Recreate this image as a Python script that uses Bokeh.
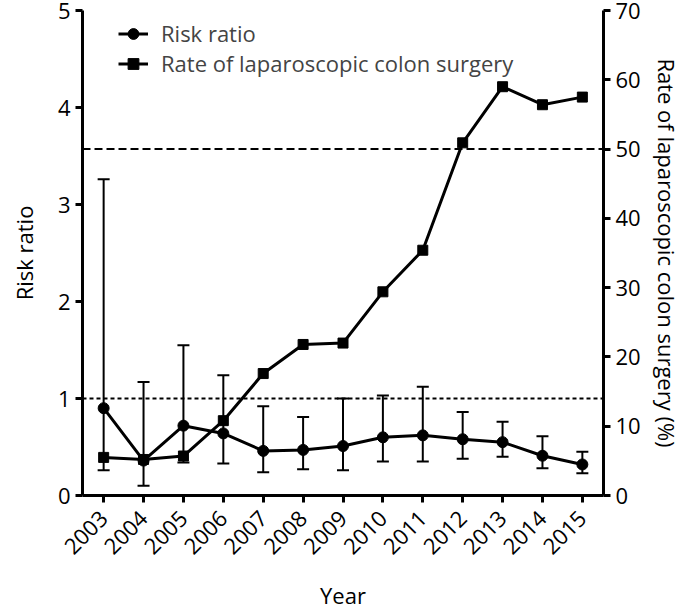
import math
from bokeh.plotting import figure
from bokeh.models import (ColumnDataSource, Range1d, LinearAxis, FixedTicker, Span,
                          Whisker, TeeHead, Legend, LegendItem)
from bokeh.embed import file_html
from bokeh.resources import INLINE

years = [2003, 2004, 2005, 2006, 2007, 2008, 2009, 2010, 2011, 2012, 2013, 2014, 2015]
risk_ratio = [0.90, 0.36, 0.72, 0.64, 0.46, 0.47, 0.51, 0.60, 0.62, 0.58, 0.55, 0.41, 0.32]
rr_lower = [0.26, 0.10, 0.34, 0.33, 0.24, 0.27, 0.26, 0.35, 0.35, 0.38, 0.40, 0.28, 0.23]
rr_upper = [3.26, 1.17, 1.55, 1.24, 0.92, 0.81, 1.00, 1.03, 1.12, 0.86, 0.76, 0.61, 0.45]
lap_rate = [5.5, 5.2, 5.7, 10.8, 17.6, 21.8, 22.0, 29.4, 35.4, 50.9, 59.0, 56.4, 57.5]

FONT = "Open Sans"
FS = "22px"

src = ColumnDataSource(dict(x=years, rr=risk_ratio, lo=rr_lower, hi=rr_upper, rate=lap_rate))

p = figure(width=685, height=613, output_backend="svg", toolbar_location=None, tools="",
           x_range=Range1d(2002.47, 2015.53), y_range=Range1d(0, 5),
           min_border_left=82, min_border_right=82, min_border_top=10, min_border_bottom=118)
p.extra_y_ranges = {"rate": Range1d(0, 70)}
p.outline_line_color = None
p.grid.grid_line_color = None
p.background_fill_color = None
p.border_fill_color = None


def style_axis(ax):
    ax.axis_line_width = 3
    ax.axis_line_color = "black"
    ax.major_tick_line_width = 3
    ax.major_tick_out = 7
    ax.major_tick_in = 0
    ax.minor_tick_line_color = None
    ax.major_label_text_font = FONT
    ax.major_label_text_font_size = FS
    ax.major_label_text_color = "black"
    ax.axis_label_text_font = FONT
    ax.axis_label_text_font_size = FS
    ax.axis_label_text_font_style = "normal"
    ax.axis_label_text_color = "black"


xa = p.xaxis[0]
style_axis(xa)
xa.ticker = FixedTicker(ticks=years)
xa.major_label_orientation = math.pi / 4
xa.major_label_standoff = 12
xa.axis_label = "Year"
xa.axis_label_standoff = 16

ya = p.yaxis[0]
style_axis(ya)
ya.ticker = FixedTicker(ticks=[0, 1, 2, 3, 4, 5])
ya.axis_label = "Risk ratio"
ya.axis_label_standoff = 16

ra = LinearAxis(y_range_name="rate", ticker=FixedTicker(ticks=list(range(0, 80, 10))),
                axis_label="Rate of laparoscopic colon surgery (%)")
style_axis(ra)
ra.axis_label_standoff = 8
p.add_layout(ra, "right")

p.add_layout(Span(location=1, dimension="width", line_color="black", line_width=2,
                  line_dash="4 3"))
p.add_layout(Span(location=50, dimension="width", y_range_name="rate", line_color="black",
                  line_width=2, line_dash="8 4"))

p.add_layout(Whisker(source=src, base="x", lower="lo", upper="hi", line_width=2,
                     line_color="black",
                     upper_head=TeeHead(size=12, line_width=2, line_color="black"),
                     lower_head=TeeHead(size=12, line_width=2, line_color="black")))

l1 = p.line("x", "rr", source=src, line_width=3, line_color="black")
s1 = p.scatter("x", "rr", source=src, marker="circle", size=11, fill_color="black",
               line_color="black")
l2 = p.line("x", "rate", source=src, y_range_name="rate", line_width=3, line_color="black")
s2 = p.scatter("x", "rate", source=src, y_range_name="rate", marker="square", size=10,
               fill_color="black", line_color="black")

legend = Legend(items=[LegendItem(label="Risk ratio", renderers=[l1, s1]),
                       LegendItem(label="Rate of laparoscopic colon surgery", renderers=[l2, s2])],
                location=(36, 417), padding=0, margin=0, spacing=0,
                glyph_width=30, glyph_height=27, label_height=27, label_standoff=13,
                label_text_font=FONT, label_text_font_size=FS,
                border_line_color=None, background_fill_alpha=0)
p.add_layout(legend)

open("out.html", "w").write(file_html(p, INLINE))
